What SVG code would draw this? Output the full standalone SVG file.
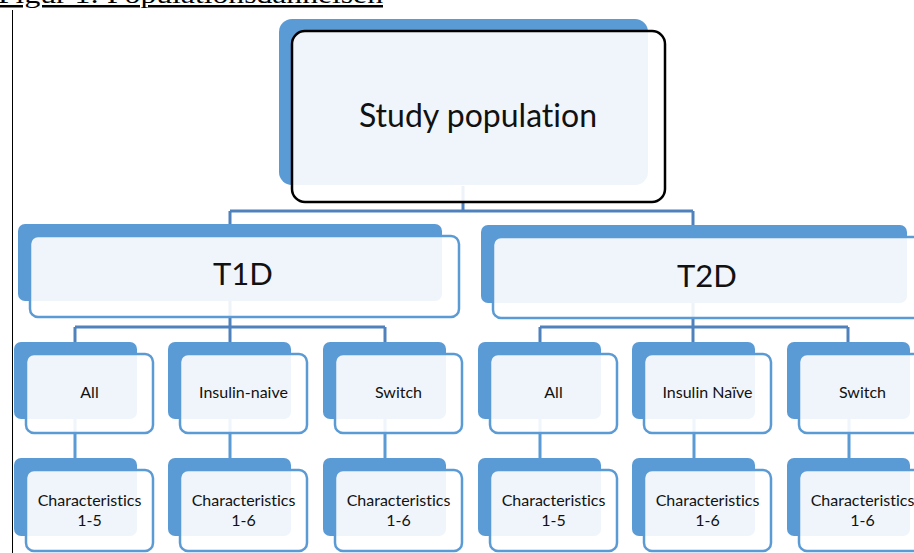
<svg xmlns="http://www.w3.org/2000/svg" width="914" height="553" viewBox="0 0 914 553">
<style>
.back{fill:#5B9BD5}
.front{fill:#FFFFFF;fill-opacity:0.9;stroke:#5B9BD5;stroke-width:2.5}
.frontTop{fill:#FFFFFF;fill-opacity:0.9;stroke:#000000;stroke-width:2.5}
.lbl{font-family:Lato,"Open Sans","Liberation Sans",sans-serif;fill:#111111;text-anchor:middle;font-variant-ligatures:none}
.big{font-size:32px}
.mid{font-size:31px}
.sm{font-size:16px}
.con{fill:none;stroke:#4F81BD;stroke-width:3}
.con2{fill:none;stroke:#5B9BD5;stroke-width:3}
</style>
<rect width="914" height="553" fill="#FFFFFF"/>
<text x="-2" y="3" font-family="'Liberation Serif','Times New Roman',serif" font-size="25" textLength="385" lengthAdjust="spacingAndGlyphs" text-decoration="underline" fill="#000">Figur 1: Populationsdannelsen</text>
<line x1="12.5" y1="10" x2="12.5" y2="553" stroke="#000" stroke-width="1"/>
<g id="connectors">
<path class="con" d="M463,186 V211 M230,211 H693 M230,211 V226 M693,211 V226"/>
<path class="con" d="M230,300 V327 M75,327 H385 M75,327 V343 M230,327 V343 M385,327 V343"/>
<path class="con" d="M693,302 V327 M540,327 H848 M540,327 V343 M693,327 V343 M848,327 V343"/>
<path class="con2" d="M75,418 V459 M230,418 V459 M385,418 V459 M540,418 V459 M694,418 V459 M849,418 V459"/>
</g>
<g id="study-population">
<rect class="back" x="279" y="19" width="369" height="166" rx="13"/>
<rect class="frontTop" x="292" y="31" width="373" height="171" rx="13"/>
<text class="lbl big" x="478" y="127">Study population</text>
</g>
<g id="t1d">
<rect class="back" x="18" y="224" width="424" height="77" rx="7"/>
<rect class="front" x="30" y="236" width="429" height="81" rx="8"/>
<text class="lbl mid" x="243" y="285">T1D</text>
</g>
<g id="t2d">
<rect class="back" x="481" y="225" width="426" height="78" rx="7"/>
<rect class="front" x="493" y="237" width="430" height="81" rx="8"/>
<text class="lbl mid" x="707" y="287">T2D</text>
</g>
<g id="t1d-all">
<rect class="back" x="14" y="342" width="123" height="77" rx="7"/>
<rect class="front" x="26" y="354" width="127" height="79" rx="8"/>
<text class="lbl sm" x="89.5" y="398">All</text>
</g>
<g id="t1d-insulin-naive">
<rect class="back" x="168" y="342" width="123" height="77" rx="7"/>
<rect class="front" x="180" y="354" width="127" height="79" rx="8"/>
<text class="lbl sm" x="243.5" y="398">Insulin-naive</text>
</g>
<g id="t1d-switch">
<rect class="back" x="323" y="342" width="123" height="77" rx="7"/>
<rect class="front" x="335" y="354" width="127" height="79" rx="8"/>
<text class="lbl sm" x="398.5" y="398">Switch</text>
</g>
<g id="t2d-all">
<rect class="back" x="478" y="342" width="123" height="77" rx="7"/>
<rect class="front" x="490" y="354" width="127" height="79" rx="8"/>
<text class="lbl sm" x="553.5" y="398">All</text>
</g>
<g id="t2d-insulin-naive">
<rect class="back" x="632" y="342" width="123" height="77" rx="7"/>
<rect class="front" x="644" y="354" width="127" height="79" rx="8"/>
<text class="lbl sm" x="707.5" y="398">Insulin Naïve</text>
</g>
<g id="t2d-switch">
<rect class="back" x="787" y="342" width="123" height="77" rx="7"/>
<rect class="front" x="799" y="354" width="127" height="79" rx="8"/>
<text class="lbl sm" x="862.5" y="398">Switch</text>
</g>
<g id="t1d-all-char">
<rect class="back" x="14" y="458" width="123" height="78" rx="7"/>
<rect class="front" x="26" y="470" width="127" height="81" rx="8"/>
<text class="lbl sm" x="89.5" y="506">Characteristics</text>
<text class="lbl sm" x="89.5" y="526">1-5</text>
</g>
<g id="t1d-insulin-naive-char">
<rect class="back" x="168" y="458" width="123" height="78" rx="7"/>
<rect class="front" x="180" y="470" width="127" height="81" rx="8"/>
<text class="lbl sm" x="243.5" y="506">Characteristics</text>
<text class="lbl sm" x="243.5" y="526">1-6</text>
</g>
<g id="t1d-switch-char">
<rect class="back" x="323" y="458" width="123" height="78" rx="7"/>
<rect class="front" x="335" y="470" width="127" height="81" rx="8"/>
<text class="lbl sm" x="398.5" y="506">Characteristics</text>
<text class="lbl sm" x="398.5" y="526">1-6</text>
</g>
<g id="t2d-all-char">
<rect class="back" x="478" y="458" width="123" height="78" rx="7"/>
<rect class="front" x="490" y="470" width="127" height="81" rx="8"/>
<text class="lbl sm" x="553.5" y="506">Characteristics</text>
<text class="lbl sm" x="553.5" y="526">1-5</text>
</g>
<g id="t2d-insulin-naive-char">
<rect class="back" x="632" y="458" width="123" height="78" rx="7"/>
<rect class="front" x="644" y="470" width="127" height="81" rx="8"/>
<text class="lbl sm" x="707.5" y="506">Characteristics</text>
<text class="lbl sm" x="707.5" y="526">1-6</text>
</g>
<g id="t2d-switch-char">
<rect class="back" x="787" y="458" width="123" height="78" rx="7"/>
<rect class="front" x="799" y="470" width="127" height="81" rx="8"/>
<text class="lbl sm" x="862.5" y="506">Characteristics</text>
<text class="lbl sm" x="862.5" y="526">1-6</text>
</g>
</svg>
